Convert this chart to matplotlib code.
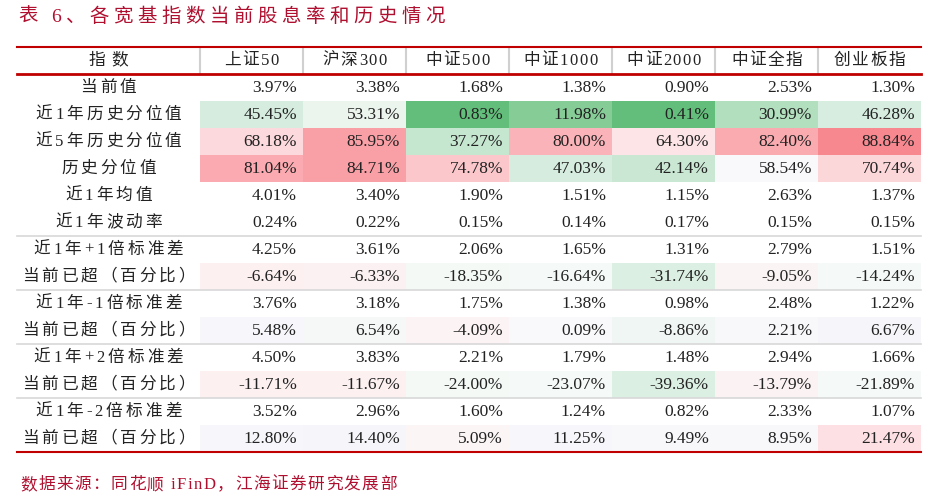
import matplotlib
matplotlib.use("Agg")
import matplotlib.pyplot as plt
from matplotlib.patches import Rectangle

FAM = ['Liberation Serif', 'Noto Sans CJK SC']
columns = ["上证50", "沪深300", "中证500", "中证1000", "中证2000", "中证全指", "创业板指"]
row_labels = ["当前值", "近1年历史分位值", "近5年历史分位值", "历史分位值", "近1年均值", "近1年波动率",
              "近1年+1倍标准差", "当前已超（百分比）", "近1年-1倍标准差", "当前已超（百分比）",
              "近1年+2倍标准差", "当前已超（百分比）", "近1年-2倍标准差", "当前已超（百分比）"]
values = [
    ["3.97%", "3.38%", "1.68%", "1.38%", "0.90%", "2.53%", "1.30%"],
    ["45.45%", "53.31%", "0.83%", "11.98%", "0.41%", "30.99%", "46.28%"],
    ["68.18%", "85.95%", "37.27%", "80.00%", "64.30%", "82.40%", "88.84%"],
    ["81.04%", "84.71%", "74.78%", "47.03%", "42.14%", "58.54%", "70.74%"],
    ["4.01%", "3.40%", "1.90%", "1.51%", "1.15%", "2.63%", "1.37%"],
    ["0.24%", "0.22%", "0.15%", "0.14%", "0.17%", "0.15%", "0.15%"],
    ["4.25%", "3.61%", "2.06%", "1.65%", "1.31%", "2.79%", "1.51%"],
    ["-6.64%", "-6.33%", "-18.35%", "-16.64%", "-31.74%", "-9.05%", "-14.24%"],
    ["3.76%", "3.18%", "1.75%", "1.38%", "0.98%", "2.48%", "1.22%"],
    ["5.48%", "6.54%", "-4.09%", "0.09%", "-8.86%", "2.21%", "6.67%"],
    ["4.50%", "3.83%", "2.21%", "1.79%", "1.48%", "2.94%", "1.66%"],
    ["-11.71%", "-11.67%", "-24.00%", "-23.07%", "-39.36%", "-13.79%", "-21.89%"],
    ["3.52%", "2.96%", "1.60%", "1.24%", "0.82%", "2.33%", "1.07%"],
    ["12.80%", "14.40%", "5.09%", "11.25%", "9.49%", "8.95%", "21.47%"],
]
colors = {
    1: ["#d5ecdf", "#ebf5ee", "#63be7b", "#86cc97", "#63be7b", "#b2dfbd", "#d7ede0"],
    2: ["#fcd9dc", "#f9a0a6", "#c5e6cf", "#fab3b8", "#fde5e7", "#faabb0", "#f8888f"],
    3: ["#faaab0", "#f9a0a7", "#fbc7cb", "#d6ecdf", "#c9e7d3", "#f9f9fc", "#fcd7da"],
    7: ["#fcf0f1", "#fcf1f2", "#f4f9f6", "#f5f9f7", "#dcefe3", "#fbf4f5", "#f5f9f7"],
    9: ["#f7f7fb", "#f6f8f8", "#fcf3f4", "#f9f9fb", "#f0f6f3", "#f8f8fb", "#f6f6fa"],
    11: ["#fcf0f1", "#fcf0f1", "#f4f9f6", "#f5f9f7", "#dcefe3", "#fbf2f3", "#f5f9f7"],
    13: ["#f7f7fb", "#f6f6fa", "#fbf5f6", "#f7f7fb", "#f8f8fb", "#f8f8fb", "#fce0e3"],
}

def spaced(s, sp):
    # render with letter spacing by inserting hair-width gaps
    return s

Wpx, Hpx = 928, 498
fig = plt.figure(figsize=(Wpx/100, Hpx/100), dpi=100)
ax = fig.add_axes([0, 0, 1, 1])
ax.set_xlim(0, Wpx); ax.set_ylim(Hpx, 0); ax.axis('off')
red = "#c00000"
dark = "#222222"

def text_spaced(x, y, s, size, color, ha, track):
    # draw characters individually with tracking (px) between them
    r = fig.canvas.get_renderer()
    ws = []
    for ch in s:
        t = ax.text(0, 0, ch, fontsize=size, family=FAM)
        bb = t.get_window_extent(renderer=r)
        ws.append(bb.width); t.remove()
    total = sum(ws) + track*(len(s)-1)
    cx = x - total/2 if ha == 'center' else x
    for ch, w in zip(s, ws):
        ax.text(cx, y, ch, fontsize=size, family=FAM, color=color, va='center', ha='left')
        cx += w + track

text_spaced(18, 17, "表 6、各宽基指数当前股息率和历史情况", 14, "#b01030", 'left', 4.5)

x0, xl = 17, 200
cw = 103
xs = [xl + i*cw for i in range(8)]
top, hh = 47, 27
rh = 27.0
y_rows = [top + hh + i*rh for i in range(len(row_labels)+1)]

text_spaced((x0+xl)/2, top+hh/2, "指数", 12, dark, 'center', 6)
for j, c in enumerate(columns):
    text_spaced(xs[j]+cw/2, top+hh/2, c, 12, dark, 'center', 1.5)
for x in xs[:-1]:
    ax.plot([x, x], [top+1, top+hh-1], color="#d0d0d0", lw=1.5)
ax.plot([x0, xs[-1]], [top, top], color=red, lw=1.5)
ax.plot([x0, xs[-1]], [top+hh, top+hh], color=red, lw=2.0)

for i, lab in enumerate(row_labels):
    y0 = y_rows[i]; yc = y0 + rh/2
    if i in colors:
        for j in range(7):
            ax.add_patch(Rectangle((xs[j], y0), cw, rh, color=colors[i][j], lw=0))
    text_spaced((x0+xl)/2, yc, lab, 12, dark, 'center', 3)
    for j in range(7):
        ax.text(xs[j+1]-6, yc, values[i][j], ha='right', va='center', fontsize=12.5, family=FAM, color=dark)
    if i in (5, 7, 9, 11):
        ax.plot([x0, xs[-1]], [y0+rh, y0+rh], color="#d8d8d8", lw=1.2)
ax.plot([x0, xs[-1]], [y_rows[-1], y_rows[-1]], color=red, lw=1.5)

text_spaced(20, 485, "数据来源：同花顺 iFinD，江海证券研究发展部", 12, "#b01030", 'left', 1.5)
fig.savefig("out.png", dpi=100)
